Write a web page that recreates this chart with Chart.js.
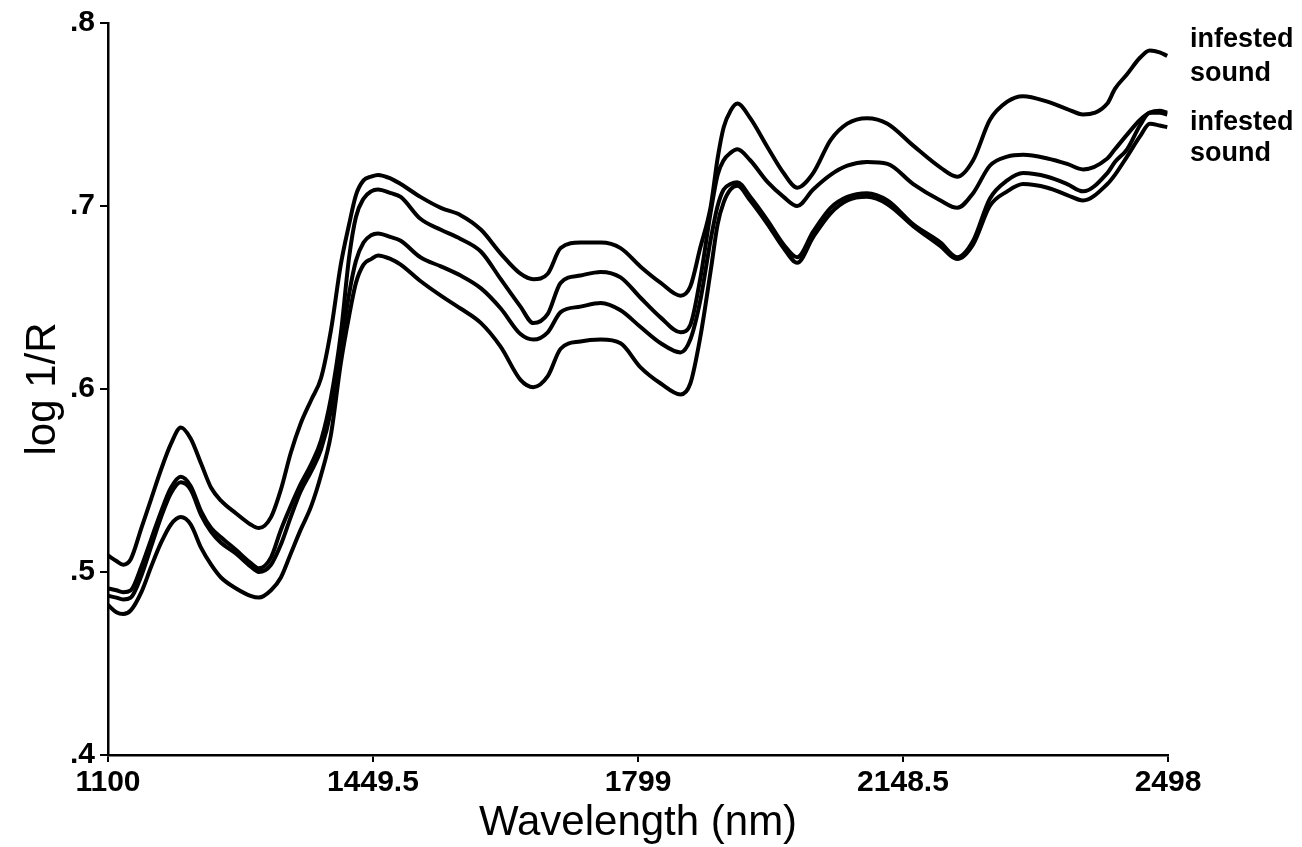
<!DOCTYPE html>
<html>
<head>
<meta charset="utf-8">
<script src="https://cdn.jsdelivr.net/npm/chart.js@4.4.1/dist/chart.umd.min.js"></script>
<style>
  html, body { margin: 0; padding: 0; background: #fff; }
  #wrap { width: 1302px; height: 847px; position: relative; }
</style>
</head>
<body>
<div id="wrap"><canvas id="chart"></canvas></div>
<script>
// wavelength (nm) and log 1/R readings for the four spectra
const wavelengths = [1100,1111,1120,1130,1144,1157,1170,1183,1196,1209,1223,1236,1249,1269,1288,1299,1315,1328,1341,1354,1368,1381,1394,1407,1418,1427,1437,1447,1456,1473,1486,1512,1539,1565,1592,1618,1644,1661,1680,1697,1723,1750,1776,1802,1829,1855,1868,1881,1895,1904,1912,1921,1930,1947,1970,1991,2009,2030,2053,2075,2101,2128,2162,2198,2220,2241,2263,2286,2307,2339,2365,2386,2418,2428,2444,2461,2474,2487,2497];

const infested1 = [.509,.506,.504,.507,.524,.540,.556,.570,.579,.573,.559,.546,.539,.532,.526,.524,.530,.545,.565,.581,.594,.606,.632,.668,.690,.706,.714,.716,.717,.715,.712,.705,.699,.695,.687,.674,.663,.660,.663,.677,.680,.680,.677,.667,.658,.651,.656,.677,.700,.726,.743,.752,.756,.748,.732,.718,.710,.718,.736,.745,.748,.745,.733,.721,.716,.725,.747,.757,.760,.757,.753,.750,.756,.764,.772,.781,.785,.784,.782];

const sound1 = [.491,.490,.489,.490,.503,.518,.533,.546,.552,.547,.533,.524,.519,.512,.505,.502,.508,.523,.536,.548,.559,.572,.595,.630,.672,.694,.704,.708,.709,.707,.705,.693,.687,.682,.675,.660,.645,.636,.641,.658,.662,.664,.661,.650,.639,.631,.635,.660,.697,.717,.725,.729,.731,.725,.713,.705,.700,.709,.717,.722,.724,.723,.712,.703,.699,.707,.722,.727,.728,.726,.723,.720,.726,.731,.739,.747,.751,.752,.751];

const infested2 = [.487,.486,.485,.486,.498,.514,.530,.543,.549,.545,.531,.522,.516,.510,.503,.500,.504,.515,.530,.544,.555,.567,.588,.622,.652,.670,.680,.684,.685,.683,.681,.672,.667,.662,.655,.644,.630,.627,.631,.642,.645,.647,.643,.634,.625,.620,.627,.648,.682,.700,.709,.712,.713,.705,.692,.679,.672,.686,.699,.705,.707,.703,.690,.680,.672,.681,.704,.714,.718,.716,.712,.708,.718,.724,.731,.744,.751,.751,.750];

const sound2 = [.482,.478,.477,.479,.489,.503,.516,.526,.530,.526,.513,.504,.497,.491,.487,.486,.490,.497,.510,.523,.536,.553,.575,.614,.640,.658,.668,.671,.673,.671,.668,.659,.651,.644,.636,.623,.605,.601,.607,.622,.626,.627,.625,.612,.603,.597,.603,.628,.665,.690,.702,.709,.711,.703,.690,.677,.669,.683,.696,.703,.705,.701,.689,.678,.671,.679,.700,.708,.712,.710,.706,.703,.712,.717,.727,.738,.745,.744,.743];

const xTicks = [1100, 1449.5, 1799, 2148.5, 2498];
const yTicks = [0.4, 0.5, 0.6, 0.7, 0.8];
const seriesLabels = ["infested", "sound", "infested", "sound"];

const toPoints = arr => arr.map((v, i) => ({ x: wavelengths[i], y: v }));

// right-hand labels next to the line ends
const sideLabels = {
  id: "sideLabels",
  afterDraw(chart) {
    const { ctx, chartArea } = chart;
    const x = chartArea.right + 22;
    const ys = [47, 81, 130, 161];
    ctx.save();
    ctx.fillStyle = "#000";
    ctx.font = "bold 27px 'Liberation Sans', Arial, sans-serif";
    ctx.textBaseline = "alphabetic";
    ctx.textAlign = "left";
    seriesLabels.forEach((t, i) => ctx.fillText(t, x, ys[i]));
    ctx.restore();
  }
};

const lineStyle = {
  borderColor: "#000",
  borderWidth: 4,
  pointRadius: 0,
  fill: false,
  cubicInterpolationMode: "monotone"
};

const tickFont = { family: "'Liberation Sans', Arial, sans-serif", size: 30, weight: "bold" };
const titleFont = { family: "'Liberation Sans', Arial, sans-serif", size: 42, lineHeight: 1 };

new Chart(document.getElementById("chart"), {
  type: "line",
  data: {
    datasets: [
      { label: seriesLabels[0], data: toPoints(infested1), ...lineStyle },
      { label: seriesLabels[1], data: toPoints(sound1), ...lineStyle },
      { label: seriesLabels[2], data: toPoints(infested2), ...lineStyle },
      { label: seriesLabels[3], data: toPoints(sound2), ...lineStyle }
    ]
  },
  options: {
    responsive: true,
    maintainAspectRatio: false,
    animation: false,
    layout: { padding: { left: 0, top: 22, right: 134, bottom: 0 } },
    plugins: { legend: { display: false }, tooltip: { enabled: false } },
    scales: {
      x: {
        type: "linear",
        min: 1100,
        max: 2498,
        afterBuildTicks: s => { s.ticks = xTicks.map(v => ({ value: v })); },
        afterFit: s => { s.height = 92; },
        ticks: {
          color: "#000",
          font: tickFont,
          padding: 3,
          maxRotation: 0,
          autoSkip: false,
          callback: v => String(v)
        },
        grid: { drawOnChartArea: false, drawTicks: true, tickLength: 7, color: "#000", lineWidth: 2 },
        border: { color: "#000", width: 2.5 },
        title: { display: true, text: "Wavelength (nm)", color: "#000", font: titleFont, padding: { top: 0, bottom: 3 } }
      },
      y: {
        min: 0.4,
        max: 0.8,
        afterBuildTicks: s => { s.ticks = yTicks.map(v => ({ value: v })); },
        afterFit: s => { s.width = 108; },
        ticks: {
          color: "#000",
          font: tickFont,
          padding: 5,
          callback: v => v.toFixed(1).replace(/^0/, "")
        },
        grid: { drawOnChartArea: false, drawTicks: true, tickLength: 8, color: "#000", lineWidth: 2 },
        border: { color: "#000", width: 2.5 },
        title: { display: true, text: "log 1/R", color: "#000", font: titleFont, padding: { top: 22, bottom: 0 } }
      }
    }
  },
  plugins: [sideLabels]
});
</script>
</body>
</html>
